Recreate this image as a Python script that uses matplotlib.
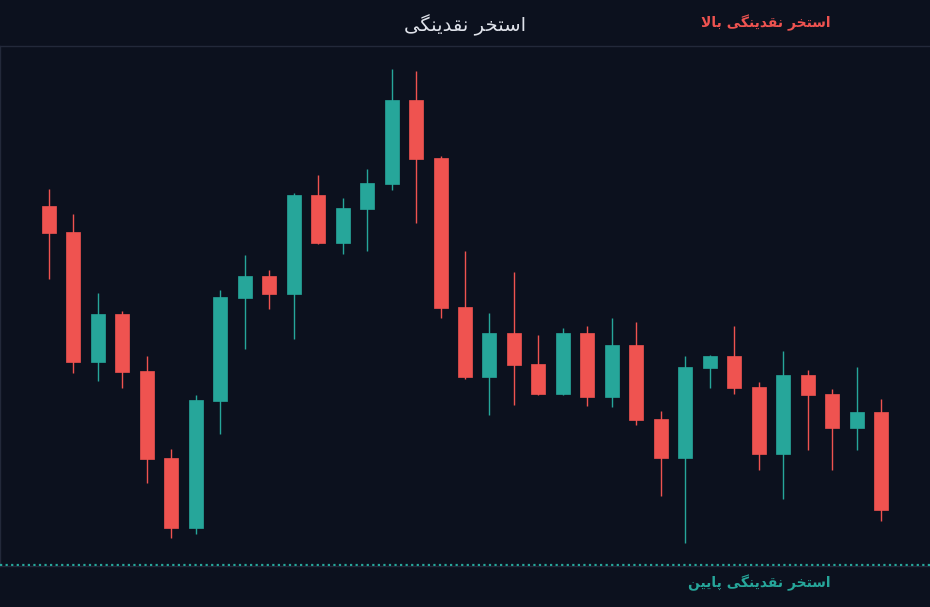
import numpy as np
import matplotlib
matplotlib.use("Agg")
import matplotlib.pyplot as plt

# OHLC
opens = [136.0, 133.4, 120.4, 125.2, 119.5, 110.8, 103.8, 116.5, 126.8, 129.0,
         127.2, 137.1, 132.3, 135.7, 138.2, 146.6, 140.8, 125.9, 118.9, 123.3,
         120.2, 117.2, 123.3, 116.9, 122.1, 114.7, 110.8, 119.8, 121.0, 117.9,
         111.2, 119.1, 117.2, 113.8, 115.4]
highs = [137.7, 135.2, 127.3, 125.5, 121.0, 111.7, 117.1, 127.6, 131.1, 129.6,
         137.3, 139.1, 136.8, 139.7, 149.7, 149.5, 141.0, 131.5, 125.3, 129.4,
         123.1, 123.8, 124.0, 124.8, 124.4, 115.5, 121.0, 121.1, 124.0, 118.4,
         121.5, 119.6, 117.7, 119.9, 116.7]
lows = [128.7, 119.3, 118.5, 117.8, 108.3, 102.8, 103.2, 113.2, 121.7, 125.7,
        122.7, 132.2, 131.2, 131.5, 137.6, 134.3, 124.8, 118.7, 115.1, 116.1,
        117.1, 117.1, 116.0, 115.9, 114.1, 107.0, 102.3, 117.8, 117.2, 109.6,
        106.7, 111.6, 109.6, 111.6, 104.5]
closes = [133.3, 120.4, 125.2, 119.4, 110.7, 103.8, 116.6, 126.9, 129.0, 127.2,
          137.1, 132.3, 135.8, 138.3, 146.6, 140.7, 125.8, 118.9, 123.3, 120.1,
          117.2, 123.3, 116.9, 122.1, 114.6, 110.8, 119.9, 121.0, 117.8, 111.2,
          119.1, 117.1, 113.8, 115.4, 105.6]
low_pool = 100.1

title_txt = "استخر نقدینگی"
upper_txt = "استخر نقدینگی بالا"
lower_txt = "استخر نقدینگی پایین"

BG = "#0c111e"
UP = "#26a69a"
DOWN = "#ef5350"

# tiny Persian shaper (isolated, final, initial, medial) for the letters used
FORMS = {
    "ا": ("\uFE8D", "\uFE8E", None, None),
    "ب": ("\uFE8F", "\uFE90", "\uFE91", "\uFE92"),
    "پ": ("\uFB56", "\uFB57", "\uFB58", "\uFB59"),
    "ت": ("\uFE95", "\uFE96", "\uFE97", "\uFE98"),
    "خ": ("\uFEA5", "\uFEA6", "\uFEA7", "\uFEA8"),
    "د": ("\uFEA9", "\uFEAA", None, None),
    "ر": ("\uFEAD", "\uFEAE", None, None),
    "س": ("\uFEB1", "\uFEB2", "\uFEB3", "\uFEB4"),
    "ق": ("\uFED5", "\uFED6", "\uFED7", "\uFED8"),
    "ل": ("\uFEDD", "\uFEDE", "\uFEDF", "\uFEE0"),
    "ن": ("\uFEE5", "\uFEE6", "\uFEE7", "\uFEE8"),
    "گ": ("\uFB92", "\uFB93", "\uFB94", "\uFB95"),
    "ی": ("\uFBFC", "\uFBFD", "\uFBFE", "\uFBFF"),
}


def shape(s):
    out = []
    i = 0
    while i < len(s):
        ch = s[i]
        if ch not in FORMS:
            out.append(ch)
            i += 1
            continue
        prev = s[i - 1] if i > 0 else ""
        join_prev = prev in FORMS and FORMS[prev][2] is not None
        if ch == "ل" and i + 1 < len(s) and s[i + 1] == "ا":
            out.append("\uFEFC" if join_prev else "\uFEFB")
            i += 2
            continue
        nxt = s[i + 1] if i + 1 < len(s) else ""
        join_next = nxt in FORMS and FORMS[ch][2] is not None
        iso, fin, ini, med = FORMS[ch]
        if join_prev and join_next:
            out.append(med)
        elif join_prev:
            out.append(fin)
        elif join_next:
            out.append(ini)
        else:
            out.append(iso)
        i += 1
    return "".join(out)[::-1]


fig = plt.figure(figsize=(9.3, 6.07), dpi=100, facecolor=BG)
ax = fig.add_axes([0.0, 1 - 566 / 607, 1.0, 520 / 607])
ax.set_facecolor(BG)

x = np.arange(len(opens))
o = np.array(opens)
c = np.array(closes)
colors = [UP if cc >= oo else DOWN for oo, cc in zip(o, c)]

ax.vlines(x, lows, highs, colors=colors, linewidth=1.0, zorder=2)
ax.bar(x, np.abs(c - o), bottom=np.minimum(o, c), width=0.57,
       color=colors, edgecolor=colors, linewidth=0.5, zorder=3)

ax.axhline(low_pool, color=UP, linestyle=(0, (1.0, 1.5)), linewidth=1.6, zorder=4)

ax.set_xlim(-2, 36)
ax.set_ylim(100.0, 152.0)
ax.set_xticks([])
ax.set_yticks([])
for side, sp in ax.spines.items():
    sp.set_color("#23293a")
    sp.set_linewidth(1.0)
ax.spines["right"].set_visible(False)

fonts = ["DejaVu Sans", "Noto Sans"]
fig.text(0.5, 1 - 25 / 607, shape(title_txt), color="#dfe2ea", fontsize=14,
         ha="center", va="center", family=fonts)
fig.text(831 / 930, 1 - 23 / 607, shape(upper_txt), color=DOWN, fontsize=10,
         fontweight="bold", ha="right", va="center", family=fonts)
fig.text(831 / 930, 1 - 583 / 607, shape(lower_txt), color=UP, fontsize=10,
         fontweight="bold", ha="right", va="center", family=fonts)

fig.savefig("out.png", dpi=100, facecolor=BG)
